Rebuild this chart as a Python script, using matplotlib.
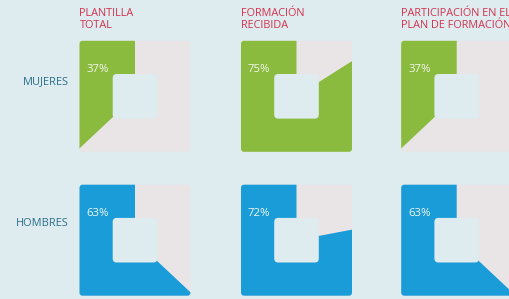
import matplotlib
matplotlib.use('Agg')
import matplotlib.pyplot as plt
from matplotlib.patches import FancyBboxPatch, Wedge

plt.rcParams['font.family'] = ['Open Sans', 'DejaVu Sans']

# datos
columns = ['PLANTILLA\nTOTAL', 'FORMACIÓN\nRECIBIDA', 'PARTICIPACIÓN EN EL\nPLAN DE FORMACIÓN']
rows = ['MUJERES', 'HOMBRES']
labels_women = ['37%', '75%', '37%']
labels_men = ['63%', '72%', '63%']
# porcentaje del giro tal como está dibujado en la figura
drawn_women = [37, 84, 37]
drawn_men = [63, 78, 63]

bg = '#deebef'
grey = '#e9e5e6'
row_colors = ['#8aba3e', '#1a9cd8']

W, H = 510, 299
fig = plt.figure(figsize=(W / 100, H / 100), dpi=100)
fig.patch.set_facecolor(bg)
ax = fig.add_axes([0, 0, 1, 1])
ax.set_xlim(0, W)
ax.set_ylim(0, H)
ax.axis('off')

col_x = [135, 296.5, 456.7]
row_y = [H - 96.3, H - 240.2]
half = 55.5
hole = 22.3


def square_donut(cx, cy, share, color, label):
    outer = FancyBboxPatch((cx - half + 3, cy - half + 3), 2 * half - 6, 2 * half - 6,
                           boxstyle='round,pad=3', fc=grey, ec='none')
    ax.add_patch(outer)
    w = Wedge((cx, cy), half * 2, 90, 90 + 360 * share / 100, fc=color, ec='none')
    ax.add_patch(w)
    w.set_clip_path(outer)
    ax.add_patch(FancyBboxPatch((cx - hole + 4, cy - hole + 4), 2 * hole - 8, 2 * hole - 8,
                                boxstyle='round,pad=4', fc=bg, ec='none'))
    ax.text(cx - half + 7, cy + 24, label, color='#f3f7ee', fontsize=8.2,
            ha='left', va='baseline')


for i, name in enumerate(columns):
    l1, l2 = name.split('\n')
    ax.text(col_x[i] - half, H - 16, l1, color='#d2334f', fontsize=7.8, ha='left', va='baseline')
    ax.text(col_x[i] - half, H - 28, l2, color='#d2334f', fontsize=7.8, ha='left', va='baseline')

for r, name in enumerate(rows):
    ax.text(69, row_y[r] + 12.3 if r == 0 else row_y[r] + 14.2, name, color='#2a6f8c',
            fontsize=7.9, ha='right', va='baseline')

for i in range(3):
    square_donut(col_x[i], row_y[0], drawn_women[i], row_colors[0], labels_women[i])
    square_donut(col_x[i], row_y[1], drawn_men[i], row_colors[1], labels_men[i])

fig.savefig('out.png', dpi=100, facecolor=bg)
